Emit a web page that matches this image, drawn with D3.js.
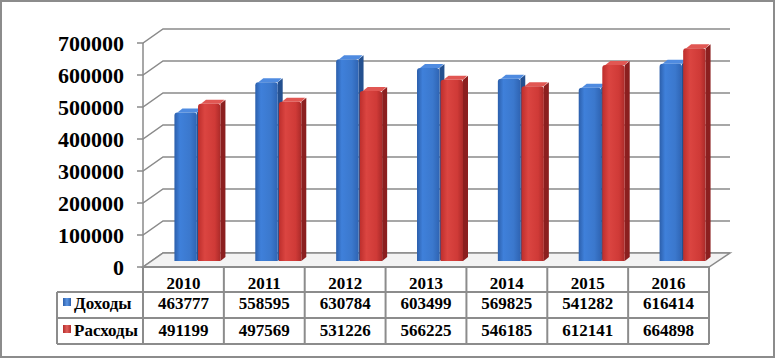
<!DOCTYPE html>
<html>
<head>
<meta charset="utf-8">
<script src="https://cdn.jsdelivr.net/npm/d3@7"></script>
<style>
  body { margin: 0; background: #fff; }
</style>
</head>
<body>
<div id="chart"></div>
<script>
// data
const years = ["2010", "2011", "2012", "2013", "2014", "2015", "2016"];
const seriesNames = ["Доходы", "Расходы"];
const incomes = [463777, 558595, 630784, 603499, 569825, 541282, 616414];
const expenses = [491199, 497569, 531226, 566225, 546185, 612141, 664898];
const yTicks = [0, 100000, 200000, 300000, 400000, 500000, 600000, 700000];

const width = 776, height = 360;
const left = 143, right = 709, zeroY = 267, topY = 43;
const wallDx = 20, wallDy = -14;   // back wall offset
const barDx = 7, barDy = -6;       // bars sit a bit inside the floor
const sideDx = 5, sideDy = -4;     // depth of a single bar
const gridColor = "#8a8a8a";
const serif = "'Liberation Serif', 'Times New Roman', 'DejaVu Serif', serif";

const svg = d3.select("#chart").append("svg")
    .attr("width", width)
    .attr("height", height)
    .style("display", "block")
    .attr("font-family", serif)
    .attr("font-weight", "bold");

const defs = svg.append("defs");
function grad(id, stops) {
    const g = defs.append("linearGradient").attr("id", id);
    g.selectAll("stop").data(stops).join("stop")
        .attr("offset", d => d[0])
        .attr("stop-color", d => d[1]);
}
grad("blueFront", [["0%", "#2c5fab"], ["25%", "#3f80da"], ["70%", "#3b78cd"], ["100%", "#2f64b3"]]);
grad("redFront", [["0%", "#bd2e2c"], ["30%", "#db4541"], ["75%", "#cf3a37"], ["100%", "#ab2a29"]]);
grad("blueKey", [["0%", "#2c5fab"], ["50%", "#5b95e3"], ["100%", "#2c5fab"]]);
grad("redKey", [["0%", "#b52d2b"], ["50%", "#e0605c"], ["100%", "#b52d2b"]]);

const palette = [
    { front: "url(#blueFront)", side: "#24508f", top: "#4f8be0", key: "url(#blueKey)" },
    { front: "url(#redFront)", side: "#8b1f1f", top: "#e15753", key: "url(#redKey)" }
];

// outer frame
svg.append("rect")
    .attr("x", 1).attr("y", 1)
    .attr("width", 773).attr("height", 356)
    .attr("fill", "#fff")
    .attr("stroke", "#8c8c8c")
    .attr("stroke-width", 2);

// scales
const x = d3.scaleBand().domain(years).range([left, right]);
const y = d3.scaleLinear().domain([0, 700000]).range([zeroY, topY]);
const inner = d3.scaleBand().domain(seriesNames).range([-16, 30]).paddingInner(0.05);

// gridlines: tick, diagonal on the side wall, line on the back wall
const grid = svg.append("g")
    .attr("stroke", gridColor)
    .attr("stroke-width", 1.5)
    .attr("fill", "none");
grid.selectAll("path").data(yTicks).join("path")
    .attr("d", v => {
        const yy = y(v);
        return `M${left - 6},${yy}H${left}L${left + wallDx},${yy + wallDy}H${right + wallDx + 1}`;
    });
grid.append("line")
    .attr("x1", left).attr("x2", left)
    .attr("y1", y(700000)).attr("y2", y(0));

// floor
svg.append("path")
    .attr("d", `M${left},${zeroY}H${right}L${right + wallDx + 1},${zeroY + wallDy}H${left + wallDx}Z`)
    .attr("fill", "#f3f3f3")
    .attr("stroke", gridColor)
    .attr("stroke-width", 1.5);

// bars
const series = [incomes, expenses];
const barsG = svg.append("g");
years.forEach((yr, i) => {
    seriesNames.forEach((name, s) => {
        const v = series[s][i];
        const c = palette[s];
        const x0 = x(yr) + x.bandwidth() / 2 + inner(name) + barDx;
        const w = inner.bandwidth();
        const y0 = y(0) + barDy;
        const y1 = y(v) + barDy;
        const r = 3;
        const g = barsG.append("g");
        // side face
        g.append("path")
            .attr("d", `M${x0 + w},${y0}V${y1}L${x0 + w + sideDx},${y1 + sideDy}V${y0 + sideDy}Z`)
            .attr("fill", c.side);
        // top face
        g.append("path")
            .attr("d", `M${x0 + r},${y1}L${x0 + r + sideDx},${y1 + sideDy}H${x0 + w + sideDx - 1}L${x0 + w},${y1}Z`)
            .attr("fill", c.top);
        // front face with rounded top
        g.append("path")
            .attr("d", `M${x0},${y0}V${y1 + r}Q${x0},${y1} ${x0 + r},${y1}H${x0 + w - r}Q${x0 + w},${y1} ${x0 + w},${y1 + r}V${y0}Z`)
            .attr("fill", c.front);
    });
});

// y axis labels
svg.append("g")
    .attr("font-size", 22)
    .attr("text-anchor", "end")
    .selectAll("text").data(yTicks).join("text")
    .attr("x", 124)
    .attr("y", v => y(v) + 8)
    .text(v => v);

// data table
const rowTops = [267, 292, 318, 344];
const legendLeft = 57;
const table = svg.append("g")
    .attr("stroke", "#8c8c8c")
    .attr("stroke-width", 2)
    .attr("fill", "none");
table.append("line").attr("x1", left).attr("x2", right).attr("y1", rowTops[0]).attr("y2", rowTops[0]);
rowTops.slice(1).forEach(ry => {
    table.append("line").attr("x1", legendLeft).attr("x2", right).attr("y1", ry).attr("y2", ry);
});
table.append("line").attr("x1", legendLeft).attr("x2", legendLeft).attr("y1", rowTops[1]).attr("y2", rowTops[3]);
table.selectAll(".col").data(years.concat(["end"])).join("line")
    .attr("x1", (d, i) => left + i * x.bandwidth())
    .attr("x2", (d, i) => left + i * x.bandwidth())
    .attr("y1", rowTops[0]).attr("y2", rowTops[3]);

const text = svg.append("g").attr("font-size", 17).attr("fill", "#000");
text.selectAll(".yr").data(years).join("text")
    .attr("x", d => x(d) + x.bandwidth() / 2)
    .attr("y", 289)
    .attr("text-anchor", "middle")
    .text(d => d);
series.forEach((vals, s) => {
    const by = s === 0 ? 309 : 336;
    text.append("g").selectAll("text").data(vals).join("text")
        .attr("x", (d, i) => x(years[i]) + x.bandwidth() / 2)
        .attr("y", by)
        .attr("text-anchor", "middle")
        .text(d => d);
    text.append("rect")
        .attr("x", 63).attr("y", by - 11)
        .attr("width", 8).attr("height", 8)
        .attr("fill", palette[s].key);
    text.append("text")
        .attr("x", 74).attr("y", by)
        .text(seriesNames[s]);
});
</script>
</body>
</html>
